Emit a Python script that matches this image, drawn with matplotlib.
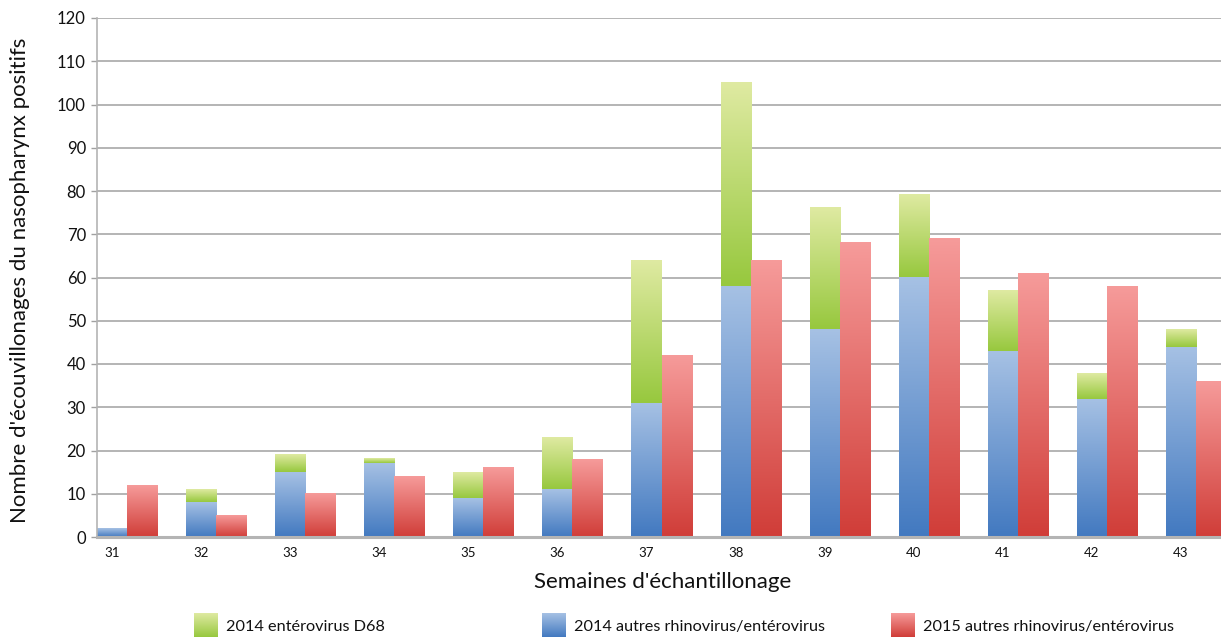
import numpy as np
import matplotlib
matplotlib.use('Agg')
import matplotlib.pyplot as plt
from matplotlib.colors import LinearSegmentedColormap

weeks = [31, 32, 33, 34, 35, 36, 37, 38, 39, 40, 41, 42, 43]
autres_2014 = [2, 8, 15, 17, 9, 11, 31, 58, 48, 60, 43, 32, 44]
d68_2014 = [0, 3, 4, 1, 6, 12, 33, 47, 28, 19, 14, 6, 4]
autres_2015 = [12, 5, 10, 14, 16, 18, 42, 64, 68, 69, 61, 58, 36]

labels = ["2014 entérovirus D68", "2014 autres rhinovirus/entérovirus",
          "2015 autres rhinovirus/entérovirus"]

# gradient colours (bottom, top)
green = ('#97c83e', '#dfeaa2')
blue = ('#4279c0', '#a6c1e4')
red = ('#d03d38', '#f69b9a')

plt.rcParams['font.family'] = ['Lato', 'DejaVu Sans']

W, H = 1221, 638
fig = plt.figure(figsize=(W / 100, H / 100), dpi=100)
ax = fig.add_axes([97 / W, 1 - 537 / H, (W - 97) / W, (537 - 18) / H])

x = np.arange(len(weeks))
w = 30 / 89.0


def grad_fill(ax, bars, cols):
    cmap = LinearSegmentedColormap.from_list('g', list(cols))
    grad = np.linspace(0, 1, 256).reshape(-1, 1)
    for b in bars:
        bx, by = b.get_x(), b.get_y()
        bw, bh = b.get_width(), b.get_height()
        b.set_facecolor('none')
        if bh <= 0:
            continue
        ax.imshow(grad, extent=[bx, bx + bw, by, by + bh], origin='lower',
                  aspect='auto', cmap=cmap, zorder=2, interpolation='bilinear')


b_blue = ax.bar(x, autres_2014, w, align='center', linewidth=0, zorder=2)
b_green = ax.bar(x, d68_2014, w, bottom=autres_2014, align='center', linewidth=0, zorder=2)
b_red = ax.bar(x + w, autres_2015, w, align='center', linewidth=0, zorder=2)
grad_fill(ax, b_blue, blue)
grad_fill(ax, b_green, green)
grad_fill(ax, b_red, red)

ax.set_xlim(-w / 2, 12 + 40 / 89.0)
ax.set_ylim(0, 120)
ax.set_yticks(range(0, 121, 10))
ax.set_xticks(x)
ax.set_xticklabels([str(wk) for wk in weeks], fontsize=9.5, color='#111111')
ax.tick_params(axis='y', labelsize=12, colors='#111111', length=4, width=1,
               color='#a0a0a0', pad=4)
ax.tick_params(axis='x', length=0, pad=7)
ax.yaxis.grid(True, color='#a0a0a0', linewidth=1.1, zorder=0)
ax.set_axisbelow(True)
for s in ['top', 'right']:
    ax.spines[s].set_visible(False)
ax.spines['left'].set_color('#b4b4b4')
ax.spines['left'].set_linewidth(1.2)
ax.spines['bottom'].set_color('#b4b4b4')
ax.spines['bottom'].set_linewidth(2.2)

fig.text(663 / W, 1 - 582 / H, "Semaines d'échantillonage", ha='center', va='center',
         fontsize=16, color='#111111')
fig.text(20 / W, 1 - 280 / H, "Nombre d'écouvillonages du nasopharynx positifs",
         ha='center', va='center', rotation=90, fontsize=16, color='#111111')

# legend at bottom with gradient swatches
grad = np.linspace(0, 1, 256).reshape(-1, 1)
leg_x = [194, 542, 891]
for lx, cols, lab in zip(leg_x, [green, blue, red], labels):
    sw = fig.add_axes([lx / W, 1 - 637 / H, 24 / W, 24 / H])
    sw.imshow(grad, origin='lower', aspect='auto',
              cmap=LinearSegmentedColormap.from_list('g', list(cols)))
    sw.axis('off')
    fig.text((lx + 32) / W, 1 - 627 / H, lab, ha='left', va='center',
             fontsize=11.7, color='#111111')

fig.savefig('out.png', dpi=100)
